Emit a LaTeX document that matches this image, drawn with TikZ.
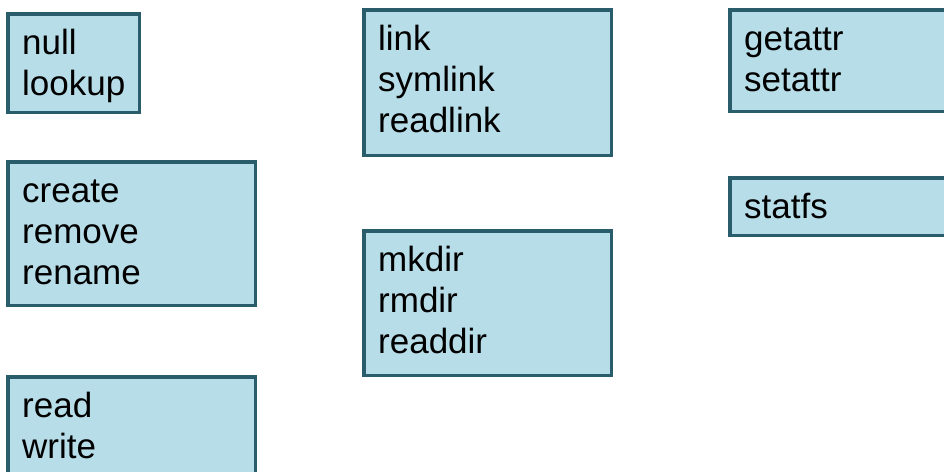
\documentclass[tikz,border=0pt]{standalone}
\usepackage{fontspec}
\setmainfont{Liberation Sans}
\definecolor{boxfill}{HTML}{B7DDE8}
\definecolor{boxline}{HTML}{2A5D6C}
\tikzset{
  opbox/.style={draw=boxline, fill=boxfill, line width=3.5pt},
  optext/.style={anchor=north west, inner sep=0pt, align=left,
    font=\fontsize{35}{41}\selectfont, text=black},
}
% first-line strut so every label's top sits 30pt above its first baseline
\newcommand{\firstline}{\rule{0pt}{30pt}}
\begin{document}
\begin{tikzpicture}[x=1pt, y=-1pt]
  \useasboundingbox (0,0) rectangle (944,471);
  \clip (0,0) rectangle (944,471);
  \fill[white] (0,0) rectangle (944,471);

  % left column
  \draw[opbox] (7.75,13.75) rectangle (139.25,112.25);
  \node[optext] (nulllookup) at (22,24) {\firstline null\\lookup};

  \draw[opbox] (7.75,161.75) rectangle (255.25,305.25);
  \node[optext] (createops) at (22,172) {\firstline create\\remove\\rename};

  \draw[opbox] (7.75,376.75) rectangle (255.25,520);
  \node[optext] (readwrite) at (22,387) {\firstline read\\write};

  % middle column
  \draw[opbox] (363.75,9.75) rectangle (611.25,155.25);
  \node[optext] (linkops) at (378,20) {\firstline link\\symlink\\readlink};

  \draw[opbox] (363.75,230.75) rectangle (611.25,375.25);
  \node[optext] (dirops) at (378,241) {\firstline mkdir\\rmdir\\readdir};

  % right column
  \draw[opbox] (729.75,9.75) rectangle (1000,111.25);
  \node[optext] (attrops) at (744,20) {\firstline getattr\\setattr};

  \draw[opbox] (729.75,177.75) rectangle (1000,235.25);
  \node[optext] (statfs) at (744,188) {\firstline statfs};
\end{tikzpicture}
\end{document}
